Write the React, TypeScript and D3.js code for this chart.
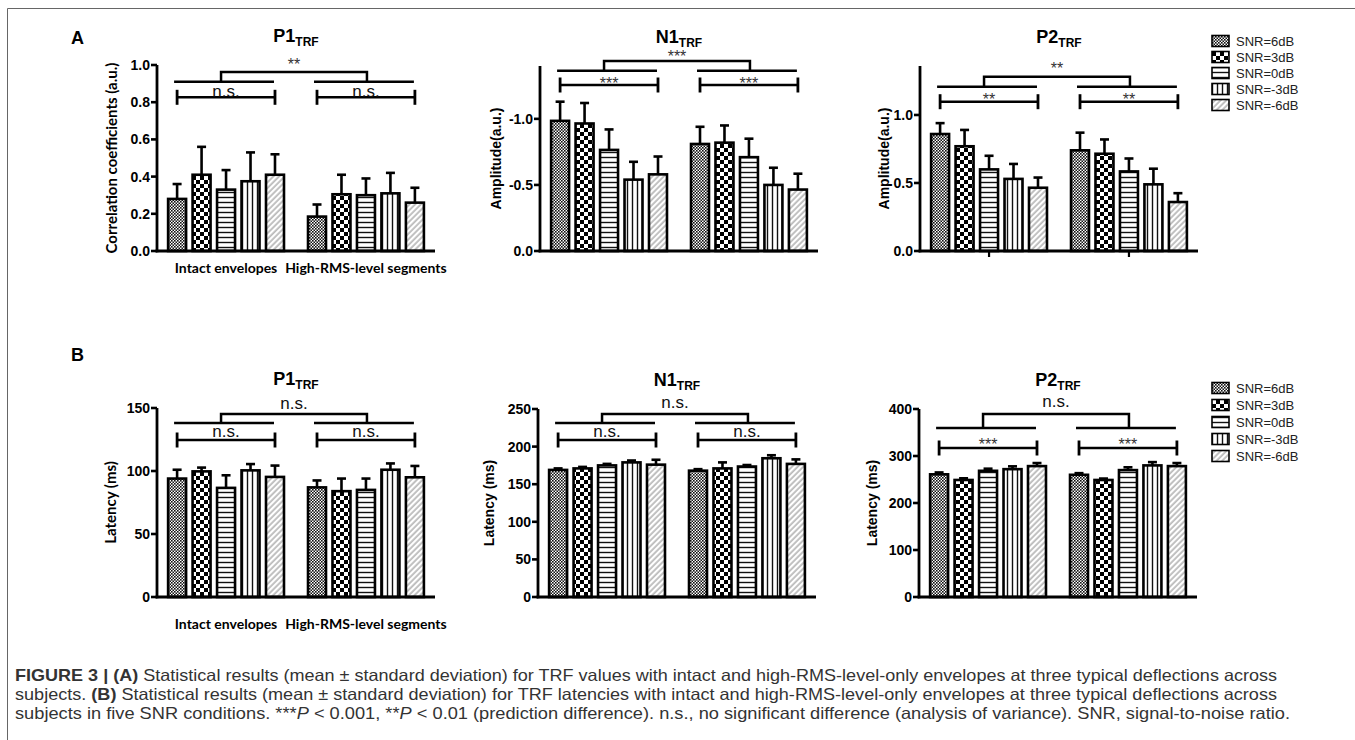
import React from 'react'
import * as d3 from 'd3'

const groupLabels = ['Intact envelopes', 'High-RMS-level segments']
const snrLabels = ['SNR=6dB', 'SNR=3dB', 'SNR=0dB', 'SNR=-3dB', 'SNR=-6dB']

// panel A: TRF values, one row per envelope type
const p1ValueMean = [[0.28, 0.41, 0.33, 0.375, 0.41], [0.185, 0.305, 0.3, 0.31, 0.26]]
const p1ValueSd = [[0.08, 0.15, 0.105, 0.155, 0.11], [0.065, 0.105, 0.09, 0.11, 0.08]]
const n1ValueMean = [[-0.985, -0.965, -0.765, -0.54, -0.58], [-0.81, -0.82, -0.71, -0.5, -0.465]]
const n1ValueSd = [[0.145, 0.155, 0.155, 0.135, 0.135], [0.13, 0.13, 0.14, 0.13, 0.12]]
const p2ValueMean = [[0.86, 0.77, 0.6, 0.53, 0.465], [0.74, 0.715, 0.585, 0.49, 0.36]]
const p2ValueSd = [[0.08, 0.12, 0.1, 0.11, 0.075], [0.13, 0.105, 0.095, 0.115, 0.065]]

// panel B: latencies (ms)
const p1LatMean = [[94, 99.7, 86.6, 100.5, 95.3], [87, 84, 85, 101, 95]]
const p1LatSd = [[7, 3, 10, 5, 9], [5.5, 10, 9, 5, 9]]
const n1LatMean = [[169, 171, 175, 179, 176], [168, 171, 173.5, 184.5, 177]]
const n1LatSd = [[2, 2, 2, 2.5, 6.5], [2, 8, 2, 4, 6]]
const p2LatMean = [[261, 249, 268.5, 272, 278.5], [260, 249, 270, 280, 278.5]]
const p2LatSd = [[4, 3.5, 4.5, 6, 6.5], [3.5, 3, 6, 7, 6.5]]

const corrTicks = [0, 0.2, 0.4, 0.6, 0.8, 1.0]
const n1AmpTicks = [0, -0.5, -1.0]
const p2AmpTicks = [0, 0.5, 1.0]
const p1LatTicks = [0, 50, 100, 150]
const n1LatTicks = [0, 50, 100, 150, 200, 250]
const p2LatTicks = [0, 100, 200, 300, 400]

const PW = 278
const ARIAL = '"Liberation Sans", Arial, sans-serif'
const CALIBRI = 'Lato, "Open Sans", sans-serif'
const fmt1 = (d: number) => d.toFixed(1)
const fmt0 = (d: number) => String(d)

const panels = [
  { title: 'P1', x: 157, top: 65, base: 251, domain: [0, 1], ticks: corrTicks, fmt: fmt1, mean: p1ValueMean, sd: p1ValueSd,
    yTitle: 'Correlation coefficients (a.u.)', yTitleX: 117, yFont: CALIBRI, cats: true, catY: 273, groupTicks: false,
    br: { top: 72, second: 81.7, ibeam: 97.3, topLabel: '**', topLabelY: 61, inLabel: 'n.s.', inLabelY: 93 } },
  { title: 'N1', x: 540, top: 66, base: 251, domain: [0, -1.4], ticks: n1AmpTicks, fmt: fmt1, mean: n1ValueMean, sd: n1ValueSd,
    yTitle: 'Amplitude(a.u.)', yTitleX: 501, yFont: ARIAL, cats: false, catY: 0, groupTicks: false,
    br: { top: 61, second: 70.7, ibeam: 85, topLabel: '***', topLabelY: 53, inLabel: '***', inLabelY: 80 } },
  { title: 'P2', x: 920, top: 66, base: 251, domain: [0, 1.36], ticks: p2AmpTicks, fmt: fmt1, mean: p2ValueMean, sd: p2ValueSd,
    yTitle: 'Amplitude(a.u.)', yTitleX: 889, yFont: ARIAL, cats: false, catY: 0, groupTicks: true,
    br: { top: 76.7, second: 86.7, ibeam: 101.7, topLabel: '**', topLabelY: 65, inLabel: '**', inLabelY: 96 } },
  { title: 'P1', x: 157, top: 408, base: 597, domain: [0, 150], ticks: p1LatTicks, fmt: fmt0, mean: p1LatMean, sd: p1LatSd,
    yTitle: 'Latency (ms)', yTitleX: 116, yFont: CALIBRI, cats: true, catY: 629, groupTicks: false,
    br: { top: 414, second: 423, ibeam: 440, topLabel: 'n.s.', topLabelY: 405, inLabel: 'n.s.', inLabelY: 433 } },
  { title: 'N1', x: 538, top: 409, base: 597, domain: [0, 250], ticks: n1LatTicks, fmt: fmt0, mean: n1LatMean, sd: n1LatSd,
    yTitle: 'Latency (ms)', yTitleX: 494, yFont: ARIAL, cats: false, catY: 0, groupTicks: false,
    br: { top: 414, second: 423, ibeam: 440, topLabel: 'n.s.', topLabelY: 404, inLabel: 'n.s.', inLabelY: 433 } },
  { title: 'P2', x: 919, top: 409, base: 597, domain: [0, 400], ticks: p2LatTicks, fmt: fmt0, mean: p2LatMean, sd: p2LatSd,
    yTitle: 'Latency (ms)', yTitleX: 877, yFont: ARIAL, cats: false, catY: 0, groupTicks: false,
    br: { top: 414, second: 428, ibeam: 448, topLabel: 'n.s.', topLabelY: 403, inLabel: '***', inLabelY: 441 } },
]

const legends = [
  { x: 1212, y0: 41, step: 16 },
  { x: 1212, y0: 388, step: 17 },
]

// baseline from a wanted visual centre of the glyphs
const labelBaseline = (label: string, cy: number) => (label.startsWith('*') ? cy + 9 : cy + 4)

function Patterns() {
  return (
    <defs>
      <pattern id="pat0" width="3" height="3" patternUnits="userSpaceOnUse">
        <rect width="3" height="3" fill="#fff" />
        <rect width="1.6" height="1.6" fill="#111" />
        <rect x="1.5" y="1.5" width="1.6" height="1.6" fill="#111" />
      </pattern>
      <pattern id="pat1" width="8" height="8" patternUnits="userSpaceOnUse">
        <rect width="8" height="8" fill="#fff" />
        <rect width="4" height="4" fill="#000" />
        <rect x="4" y="4" width="4" height="4" fill="#000" />
      </pattern>
      <pattern id="pat2" width="5" height="5" patternUnits="userSpaceOnUse">
        <rect width="5" height="5" fill="#fff" />
        <rect y="1.8" width="5" height="1.4" fill="#111" />
      </pattern>
      <pattern id="pat3" width="5" height="5" patternUnits="userSpaceOnUse">
        <rect width="5" height="5" fill="#fff" />
        <rect x="1.8" width="1.4" height="5" fill="#111" />
      </pattern>
      <pattern id="pat4" width="4" height="4" patternUnits="userSpaceOnUse" patternTransform="rotate(45)">
        <rect width="4" height="4" fill="#fff" />
        <rect x="1.6" width="0.9" height="4" fill="#777" />
      </pattern>
    </defs>
  )
}

function Panel({ cfg }: { cfg: any }) {
  const y = d3.scaleLinear().domain(cfg.domain).range([cfg.base, cfg.top])
  const xG = d3.scaleBand().domain(groupLabels).range([cfg.x, cfg.x + PW]).paddingInner(0.079).paddingOuter(0.033)
  const xS = d3.scaleBand().domain(snrLabels).range([0, xG.bandwidth()]).padding(0.265)
  const bw = xS.bandwidth()
  const centers = groupLabels.map((g) => snrLabels.map((s) => (xG(g) as number) + (xS(s) as number) + bw / 2))
  const mids = centers.map((c) => (c[0] + c[4]) / 2)
  const b = cfg.br
  const topL = mids[0] - 5
  const topR = mids[1] + 1
  const sw = 2.6
  const star = (s: string) => s.startsWith('*')

  return (
    <g>
      <text x={cfg.x + PW / 2} y={cfg.top - 23} textAnchor="middle" fontFamily={ARIAL} fontWeight="bold" fontSize={18}>
        {cfg.title}
        <tspan fontSize={12} dy={4}>TRF</tspan>
      </text>

      <text transform={`translate(${cfg.yTitleX},${(cfg.top + cfg.base) / 2}) rotate(-90)`} textAnchor="middle"
        fontFamily={cfg.yFont} fontWeight="bold" fontSize={cfg.yFont === CALIBRI ? 15 : 14}>
        {cfg.yTitle}
      </text>

      {/* bars */}
      {groupLabels.map((g, gi) =>
        snrLabels.map((s, si) => {
          const m = cfg.mean[gi][si]
          const e = m + Math.sign(m) * cfg.sd[gi][si]
          const cx = centers[gi][si]
          const y0 = y(0)
          const y1 = y(m)
          return (
            <g key={g + s}>
              <line x1={cx} x2={cx} y1={y1} y2={y(e)} stroke="#000" strokeWidth={sw} />
              <line x1={cx - 4.5} x2={cx + 4.5} y1={y(e)} y2={y(e)} stroke="#000" strokeWidth={sw} />
              <rect x={cx - bw / 2} y={Math.min(y0, y1)} width={bw} height={Math.abs(y1 - y0)}
                fill={`url(#pat${si})`} stroke="#000" strokeWidth={sw} />
            </g>
          )
        })
      )}

      {/* axes */}
      <line x1={cfg.x} x2={cfg.x} y1={cfg.top} y2={cfg.base + 1.3} stroke="#000" strokeWidth={2.8} />
      <line x1={cfg.x - 1.4} x2={cfg.x + PW} y1={cfg.base} y2={cfg.base} stroke="#000" strokeWidth={2.8} />
      {cfg.ticks.map((t: number) => (
        <g key={t}>
          <line x1={cfg.x - 6} x2={cfg.x} y1={y(t)} y2={y(t)} stroke="#000" strokeWidth={2.6} />
          <text x={cfg.x - 7} y={y(t) + 5} textAnchor="end" fontFamily={ARIAL} fontWeight="bold" fontSize={14}>
            {cfg.fmt(t)}
          </text>
        </g>
      ))}
      {cfg.groupTicks && groupLabels.map((g) => (
        <line key={g} x1={(xG(g) as number) + xG.bandwidth() / 2} x2={(xG(g) as number) + xG.bandwidth() / 2}
          y1={cfg.base} y2={cfg.base + 6} stroke="#000" strokeWidth={2.2} />
      ))}
      {cfg.cats && groupLabels.map((g) => (
        <text key={g} x={(xG(g) as number) + xG.bandwidth() / 2} y={cfg.catY} textAnchor="middle"
          fontFamily={CALIBRI} fontWeight="bold" fontSize={14}>
          {g}
        </text>
      ))}

      {/* significance brackets */}
      <path d={`M${topL},${b.second}V${b.top}H${topR}V${b.second}`} fill="none" stroke="#000" strokeWidth={2.5} />
      <text x={(topL + topR) / 2} y={labelBaseline(b.topLabel, b.topLabelY)} textAnchor="middle"
        fontFamily={ARIAL} fontSize={star(b.topLabel) ? 16 : 17} fill={star(b.topLabel) ? '#333' : '#111'}>
        {b.topLabel}
      </text>
      {centers.map((c, gi) => (
        <g key={gi}>
          <line x1={c[0] - 3} x2={c[4] - 1} y1={b.second} y2={b.second} stroke="#000" strokeWidth={2.5} />
          <line x1={c[0]} x2={c[4]} y1={b.ibeam} y2={b.ibeam} stroke="#000" strokeWidth={2.5} />
          <line x1={c[0]} x2={c[0]} y1={b.ibeam - 7.5} y2={b.ibeam + 7.5} stroke="#000" strokeWidth={2.8} />
          <line x1={c[4]} x2={c[4]} y1={b.ibeam - 7.5} y2={b.ibeam + 7.5} stroke="#000" strokeWidth={2.8} />
          <text x={(c[0] + c[4]) / 2} y={labelBaseline(b.inLabel, b.inLabelY)} textAnchor="middle"
            fontFamily={ARIAL} fontSize={star(b.inLabel) ? 16 : 17} fill={star(b.inLabel) ? '#333' : '#111'}>
            {b.inLabel}
          </text>
        </g>
      ))}
    </g>
  )
}

function Legend({ x, y0, step }: { x: number; y0: number; step: number }) {
  return (
    <g>
      {snrLabels.map((s, i) => (
        <g key={s}>
          <rect x={x} y={y0 + i * step - 5.5} width={17} height={11} fill={`url(#pat${i})`} stroke="#000" strokeWidth={1.6} />
          <text x={x + 24} y={y0 + i * step + 4.5} fontFamily={ARIAL} fontSize={13} fill="#222">{s}</text>
        </g>
      ))}
    </g>
  )
}

export default function App() {
  const capStyle = { fontFamily: ARIAL, fontSize: 16.5, fill: '#333' }
  return (
    <svg width={1355} height={740} style={{ position: 'absolute', left: 0, top: 0, background: '#fff' }}>
      <Patterns />
      <rect width={1355} height={740} fill="#fff" />
      <path d="M7.5,740V8.5H1355" fill="none" stroke="#666" strokeWidth={1} />

      <text x={71} y={44} fontFamily={ARIAL} fontWeight="bold" fontSize={18}>A</text>
      <text x={71} y={361} fontFamily={ARIAL} fontWeight="bold" fontSize={18}>B</text>

      {panels.map((p, i) => <Panel key={i} cfg={p} />)}
      {legends.map((l, i) => <Legend key={i} {...l} />)}

      <text x={15} y={681} {...capStyle} textLength={1262} lengthAdjust="spacingAndGlyphs">
        <tspan fontWeight="bold">FIGURE 3 | (A)</tspan> Statistical results (mean ± standard deviation) for TRF values with intact and high-RMS-level-only envelopes at three typical deflections across
      </text>
      <text x={15} y={700} {...capStyle} textLength={1262} lengthAdjust="spacingAndGlyphs">
        subjects. <tspan fontWeight="bold">(B)</tspan> Statistical results (mean ± standard deviation) for TRF latencies with intact and high-RMS-level-only envelopes at three typical deflections across
      </text>
      <text x={15} y={719} {...capStyle} textLength={1275} lengthAdjust="spacingAndGlyphs">
        subjects in five SNR conditions. ***<tspan fontStyle="italic">P</tspan> {'<'} 0.001, **<tspan fontStyle="italic">P</tspan> {'<'} 0.01 (prediction difference). n.s., no significant difference (analysis of variance). SNR, signal-to-noise ratio.
      </text>
    </svg>
  )
}
